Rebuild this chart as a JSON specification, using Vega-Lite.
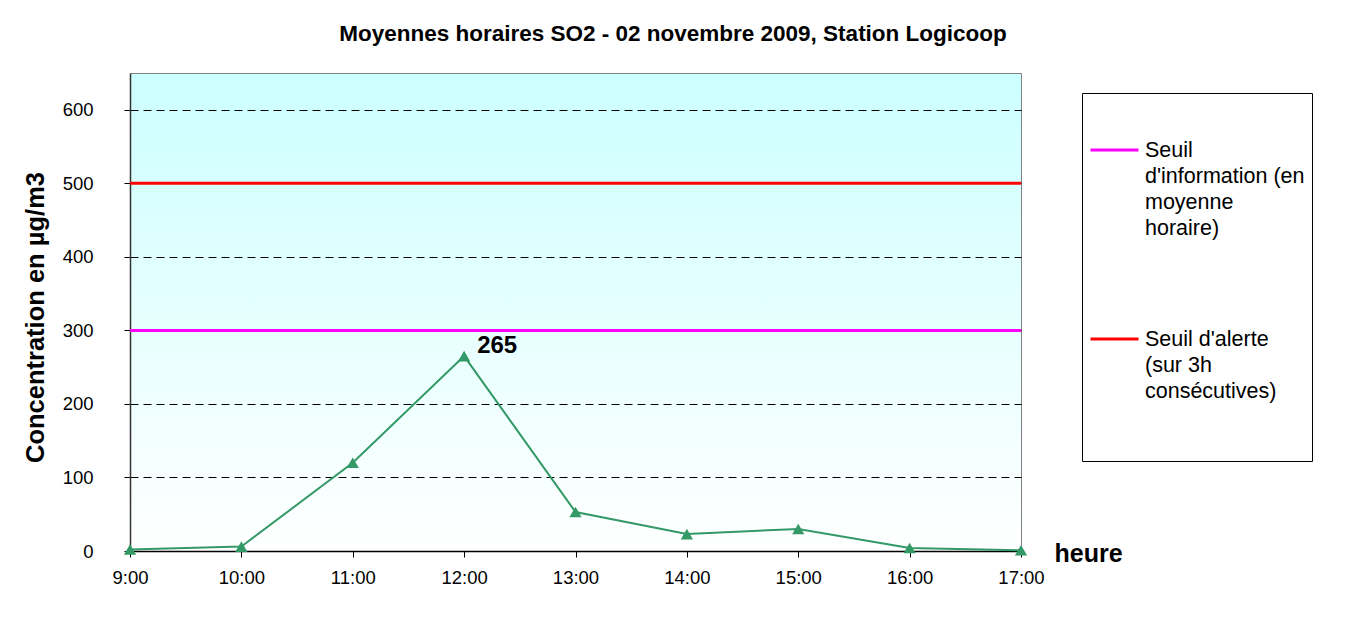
{
  "$schema": "https://vega.github.io/schema/vega-lite/v6.json",
  "width": 891,
  "height": 478,
  "autosize": "none",
  "padding": {"left": 130, "top": 73, "right": 325, "bottom": 70},
  "background": "white",
  "title": {
    "text": "Moyennes horaires SO2 - 02 novembre 2009, Station Logicoop",
    "font": "Liberation Sans",
    "fontSize": 22.5,
    "fontWeight": "bold",
    "color": "black",
    "anchor": "middle",
    "dx": 97.5,
    "baseline": "alphabetic",
    "offset": 10
  },
  "config": {
    "view": {
      "stroke": "#808080",
      "strokeWidth": 1,
      "fill": {"gradient": "linear", "x1": 0, "y1": 0, "x2": 0, "y2": 1, "stops": [{"offset": 0, "color": "#ccffff"}, {"offset": 1, "color": "#ffffff"}]}
    },
    "style": {"guide-label": {"lineHeight": 26}},
    "axis": {
      "labelFont": "Liberation Sans",
      "labelFontSize": 18.5,
      "labelColor": "black",
      "titleFont": "Liberation Sans",
      "titleColor": "black",
      "titleFontWeight": "bold",
      "tickColor": "black",
      "tickSize": 6,
      "domainColor": "#333333",
      "domainWidth": 1.5,
      "labelFlush": false,
      "labelOverlap": false
    }
  },
  "datasets": {
    "mesures": [
      {"heure": "9:00", "valeur": 2},
      {"heure": "10:00", "valeur": 6},
      {"heure": "11:00", "valeur": 120},
      {"heure": "12:00", "valeur": 265},
      {"heure": "13:00", "valeur": 53},
      {"heure": "14:00", "valeur": 23},
      {"heure": "15:00", "valeur": 30},
      {"heure": "16:00", "valeur": 4},
      {"heure": "17:00", "valeur": 1}
    ],
    "seuils": [
      {"seuil": "Seuil|d'information (en|moyenne|horaire)", "valeur": 300},
      {"seuil": "Seuil d'alerte|(sur 3h|consécutives)||", "valeur": 500}
    ]
  },
  "layer": [
    {
      "data": {"name": "seuils"},
      "mark": {"type": "rule", "strokeWidth": 3},
      "encoding": {
        "y": {"field": "valeur", "type": "quantitative", "scale": {"domain": [0, 650], "nice": false},
          "axis": {
            "values": [0, 100, 200, 300, 400, 500, 600],
            "grid": true,
            "gridColor": "black",
            "gridDash": [8, 5],
            "gridWidth": 1,
            "labelPadding": 31,
            "title": "Concentration en µg/m3",
            "titleFontSize": 25.5,
            "titleAngle": -90,
            "titleBaseline": "top",
            "titleAlign": "center",
            "titleX": -107,
            "titleY": 244
          }
        },
        "color": {
          "field": "seuil",
          "type": "nominal",
          "scale": {"domain": ["Seuil|d'information (en|moyenne|horaire)", "Seuil d'alerte|(sur 3h|consécutives)||"], "range": ["#ff00ff", "#ff0000"]},
          "legend": {
            "orient": "none",
            "legendX": 952,
            "legendY": 20,
            "title": " ",
            "titleFontSize": 10,
            "titlePadding": 21,
            "padding": 7,
            "strokeColor": "black",
            "fillColor": "white",
            "symbolType": "M-1,-0.27H1",
            "symbolSize": 2304,
            "symbolStrokeWidth": 3,
            "labelExpr": "split(datum.label, '|')",
            "labelFont": "Liberation Sans",
            "labelFontSize": 21.5,
            "labelColor": "black",
            "labelBaseline": "alphabetic",
            "labelOffset": 5,
            "labelLimit": 400,
            "rowPadding": 81
          }
        }
      }
    },
    {
      "data": {"name": "mesures"},
      "mark": {"type": "line", "color": "#339966", "strokeWidth": 2, "point": {"shape": "triangle-up", "filled": true, "size": 150, "color": "#339966"}},
      "encoding": {
        "x": {"field": "heure", "type": "ordinal", "sort": null, "scale": {"type": "point", "padding": 0},
          "axis": {
            "labelAngle": 0,
            "labelPadding": 11,
            "grid": false,
            "domainColor": "black",
            "title": "heure",
            "titleFontSize": 25,
            "titleAlign": "left",
            "titleBaseline": "alphabetic",
            "titleX": 924,
            "titleY": 10
          }
        },
        "y": {"field": "valeur", "type": "quantitative"}
      }
    },
    {
      "data": {"name": "mesures"},
      "transform": [{"filter": "datum.heure == '12:00'"}],
      "mark": {"type": "text", "font": "Liberation Sans", "fontSize": 24, "fontWeight": "bold", "color": "black", "align": "left", "baseline": "alphabetic", "dx": 13, "dy": -3},
      "encoding": {
        "x": {"field": "heure", "type": "ordinal", "sort": null},
        "y": {"field": "valeur", "type": "quantitative"},
        "text": {"field": "valeur", "type": "quantitative"}
      }
    }
  ]
}
